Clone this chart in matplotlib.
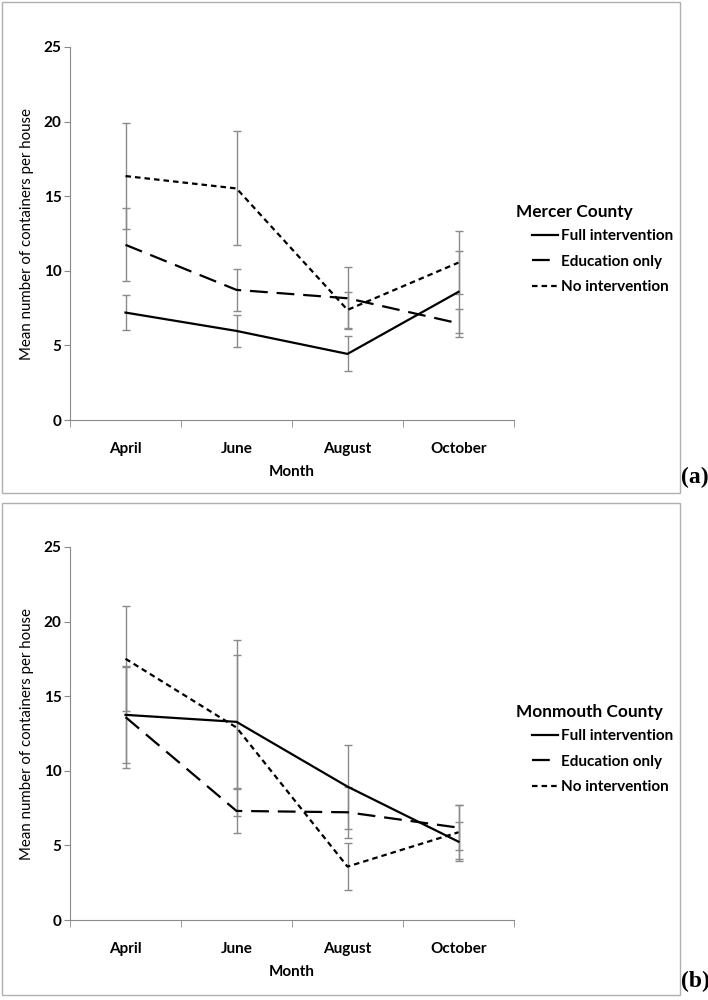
#!/usr/bin/env python3
"""Mean containers per house, Mercer and Monmouth counties."""

import matplotlib.pyplot as plt
import numpy as np
from matplotlib.lines import Line2D
from matplotlib.patches import Rectangle

months = ["April", "June", "August", "October"]
groups = ["Full intervention", "Education only", "No intervention"]

# panel (a) Mercer County
mercer_full = [7.2, 5.97, 4.43, 8.59]
mercer_full_err = [1.18, 1.1, 1.17, 2.75]
mercer_edu = [11.74, 8.72, 8.16, 6.48]
mercer_edu_err = [2.45, 1.42, 2.07, 0.94]
mercer_none = [16.35, 15.52, 7.38, 10.55]
mercer_none_err = [3.55, 3.82, 1.2, 2.13]

# panel (b) Monmouth County
monmouth_full = [13.75, 13.28, 8.94, 5.25]
monmouth_full_err = [3.2, 4.45, 2.81, 1.3]
monmouth_edu = [13.6, 7.31, 7.22, 6.19]
monmouth_edu_err = [3.4, 1.5, 1.7, 1.5]
monmouth_none = [17.51, 12.9, 3.58, 5.88]
monmouth_none_err = [3.53, 5.9, 1.55, 1.8]

styles = [
    dict(linestyle="-"),
    dict(linestyle=(0, (8, 4))),
    dict(linestyle=(0, (2.5, 1.8))),
]

plt.rcParams["font.family"] = ["Lato", "DejaVu Sans"]


def draw_panel(fig, rect, series, errs, county):
    ax = fig.add_axes(rect)
    x = np.arange(len(months))
    for vals, err, st in zip(series, errs, styles):
        ax.errorbar(x, vals, yerr=err, fmt="none", ecolor="#8a8a8a",
                    elinewidth=1.0, capsize=3, capthick=1.0, zorder=2)
        ax.plot(x, vals, color="black", lw=1.6, zorder=3, **st)

    ax.set_xlim(-0.5, len(months) - 0.5)
    ax.set_ylim(0, 25)
    ax.set_yticks(range(0, 26, 5))
    ax.set_xticks(x)
    ax.set_xticklabels(months, fontweight="bold", fontsize=11)
    ax.set_xticks(np.arange(-0.5, len(months)), minor=True)
    ax.tick_params(axis="x", which="major", length=0, pad=16)
    ax.tick_params(axis="x", which="minor", length=5, color="#8a8a8a")
    ax.tick_params(axis="y", length=4, color="#8a8a8a", pad=2)
    for lab in ax.get_yticklabels():
        lab.set_fontweight("bold")
        lab.set_fontsize(11)
    for side in ["top", "right"]:
        ax.spines[side].set_visible(False)
    for side in ["left", "bottom"]:
        ax.spines[side].set_color("#8a8a8a")
    ax.set_xlabel("Month", fontweight="bold", fontsize=11, labelpad=6)
    ax.set_ylabel("Mean number of containers per house", fontsize=10.8,
                  labelpad=7)

    handles = [Line2D([], [], color="black", lw=1.6, **st) for st in styles]
    ax.legend(handles, groups, loc="upper left",
              bbox_to_anchor=(1.04, 0.512), frameon=False, borderpad=0,
              borderaxespad=0, handlelength=1.75, handletextpad=0.15,
              labelspacing=0.76, prop=dict(weight="bold", size=11))
    ax.text(1.005, 0.558, county, transform=ax.transAxes, fontsize=12.4,
            fontweight="bold", ha="left", va="center")
    return ax


fig = plt.figure(figsize=(7.08, 10), dpi=100)

draw_panel(fig, [70 / 708, 0.58, 444 / 708, 0.373],
           [mercer_full, mercer_edu, mercer_none],
           [mercer_full_err, mercer_edu_err, mercer_none_err], "Mercer County")
draw_panel(fig, [70 / 708, 0.08, 444 / 708, 0.373],
           [monmouth_full, monmouth_edu, monmouth_none],
           [monmouth_full_err, monmouth_edu_err, monmouth_none_err],
           "Monmouth County")

# panel frames
for y0, h in [(0.507, 0.491), (0.005, 0.492)]:
    fig.patches.append(Rectangle((0.003, y0), 0.957, h, transform=fig.transFigure,
                                 fill=False, edgecolor="#b0b0b0", lw=1.0))

fig.text(0.962, 0.512, "(a)", family="Liberation Serif", fontweight="bold",
         fontsize=17, ha="left", va="bottom")
fig.text(0.962, 0.008, "(b)", family="Liberation Serif", fontweight="bold",
         fontsize=17, ha="left", va="bottom")

fig.savefig("out.png", dpi=100)
